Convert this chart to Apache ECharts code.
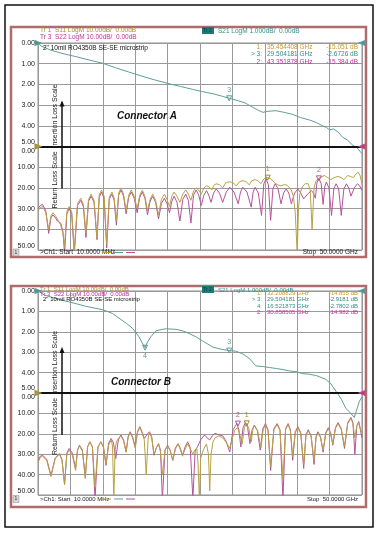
<!DOCTYPE html>
<html>
<head>
<meta charset="utf-8">
<script src="https://cdn.jsdelivr.net/npm/echarts@6/dist/echarts.min.js"></script>
<style>
html, body { margin: 0; padding: 0; background: #fff; }
#chart { width: 378px; height: 533px; }
</style>
</head>
<body>
<div id="chart"></div>
<script>
// [frequency GHz, level dB]

// ---- Connector A ----
const aS21 = [[0.01, 0], [0.5, -0.15], [2, -0.35], [3.7, -0.5], [6, -0.67], [8, -0.83], [10, -0.98], [12, -1.2], [14, -1.4], [16, -1.6], [18, -1.78], [20, -1.95], [22, -2.1], [24, -2.25], [25.4, -2.35], [27, -2.45], [28.5, -2.58], [29.5, -2.67], [31, -2.8], [32, -2.9], [33, -3.08], [34, -3.25], [34.7, -3.35], [35.5, -3.3], [36.7, -3.27], [38, -3.35], [39.3, -3.45], [40.5, -3.6], [41.9, -3.72], [43, -3.85], [43.9, -4.0], [44.5, -4.08], [45, -4.2], [45.6, -4.15], [46.3, -4.3], [47, -4.55], [47.8, -4.7], [48.6, -4.95], [49.2, -5.05], [50, -5.35]]

const aS11 = [[0.01, -31], [0.35, -29.5], [0.7, -29], [1.2, -32], [1.65, -40], [2.0, -33.5], [2.3, -32], [2.7, -33.5], [3.0, -35], [3.5, -38], [3.85, -42], [4.1, -48],
  [4.45, -31.5], [4.8, -29], [5.2, -31.5], [5.6, -50], [6.1, -27.5], [6.6, -25], [7.0, -28], [7.4, -42],
  [7.8, -25.5], [8.2, -23], [8.65, -26], [9.1, -44], [9.45, -23.5], [9.8, -21], [10.2, -24], [10.6, -47],
  [11.0, -24.5], [11.4, -22], [11.75, -25], [12.1, -36], [12.45, -22.5], [12.8, -20], [13.2, -23], [13.6, -31],
  [14.0, -23.5], [14.4, -21], [14.85, -24], [15.3, -30], [15.7, -23.5], [16.1, -21], [16.5, -24], [16.9, -31],
  [17.3, -25.5], [17.7, -23], [18.15, -26], [18.6, -33], [19.05, -25.5], [19.5, -23], [19.9, -25.5], [20.3, -29],
  [20.65, -24], [21.0, -22], [21.45, -24], [21.9, -27], [22.35, -23], [22.8, -21], [23.2, -23], [23.6, -26],
  [24.0, -21.5], [24.4, -20], [24.8, -21], [25.2, -23], [25.6, -20], [26.0, -19], [26.4, -19.5], [26.8, -21],
  [27.2, -18.5], [27.6, -18], [28.0, -18.5], [28.5, -20], [29.0, -17.5], [29.6, -17], [30.1, -17.5], [30.6, -19],
  [31.1, -17], [31.6, -16.5], [32.1, -17], [32.6, -18.5], [33.0, -16.5], [33.5, -16], [33.9, -16.5], [34.4, -18],
  [34.9, -15.5], [35.45, -15], [36.0, -15.8], [36.5, -17.5], [37.0, -18.5], [37.5, -19], [37.9, -18.5], [38.3, -18.5],
  [38.7, -19.5], [39.1, -21], [39.4, -24], [39.7, -32], [40.0, -52], [40.2, -30], [40.4, -23], [40.8, -19.5],
  [41.2, -18], [41.7, -18], [42.0, -21], [42.3, -40], [42.6, -20], [42.9, -16.5], [43.5, -15], [44.2, -14],
  [44.7, -15], [45.2, -16], [45.7, -15], [46.3, -14.5], [46.8, -15], [47.2, -16], [47.5, -15], [47.8, -14],
  [48.2, -14.5], [48.7, -15], [49.0, -13.5], [49.4, -12.4], [49.7, -14], [50, -18]]

const aS22 = [[0.01, -30], [0.35, -28.5], [0.7, -28], [1.2, -31], [1.65, -42], [2.0, -34.5], [2.3, -33], [2.7, -34.5], [3.0, -36], [3.5, -37], [3.85, -41], [4.1, -52],
  [4.45, -32.5], [4.8, -30], [5.2, -32.5], [5.6, -52], [6.1, -28.5], [6.6, -26], [7.0, -29], [7.4, -44],
  [7.8, -26.5], [8.2, -24], [8.65, -27], [9.1, -45], [9.45, -24.5], [9.8, -22], [10.2, -25], [10.6, -49],
  [11.0, -25.5], [11.4, -23], [11.75, -26], [12.1, -38], [12.45, -23.5], [12.8, -21], [13.2, -24], [13.6, -32.5],
  [14.0, -24.5], [14.4, -22], [14.85, -25], [15.3, -32], [15.7, -24.5], [16.1, -22], [16.5, -25], [16.9, -33],
  [17.3, -26.5], [17.7, -24], [18.15, -27], [18.6, -35], [19.05, -27.5], [19.5, -25], [19.9, -27.5], [20.3, -32],
  [20.65, -26.5], [21.0, -24], [21.45, -27], [21.9, -36], [22.35, -25.5], [22.8, -23], [23.2, -26], [23.6, -37],
  [24.0, -23.5], [24.4, -21], [24.8, -23.5], [25.2, -28.5], [25.6, -23.5], [26.0, -21.3], [26.35, -23.5], [26.7, -27],
  [27.1, -22.5], [27.5, -20.5], [28.0, -22.5], [28.5, -27], [29.05, -22], [29.6, -19.7], [30.25, -22], [30.9, -27.7],
  [31.25, -22], [31.6, -19.7], [32.25, -22], [32.9, -29.3], [33.2, -22], [33.5, -19.7], [34.0, -22.5], [34.5, -33.3],
  [34.85, -18], [35.2, -15.6], [35.55, -18.5], [35.9, -35.7], [36.25, -20.5], [36.6, -18], [37.05, -20.5], [37.5, -27.7],
  [37.9, -22.5], [38.3, -20.5], [38.7, -22.5], [39.1, -27.7], [39.6, -22.5], [40.1, -20.5], [40.55, -22.5], [41.0, -25.3],
  [41.6, -23], [42.2, -21.3], [42.5, -22.5], [42.8, -25], [43.05, -17.5], [43.35, -15.4], [43.7, -18], [44.0, -28],
  [44.25, -19.5], [44.5, -17.2], [44.9, -20], [45.3, -33.3], [45.65, -20.5], [46.0, -18], [46.4, -20.5], [46.8, -33.3],
  [47.2, -20.5], [47.6, -18], [47.95, -20], [48.3, -24], [48.8, -20], [49.3, -18], [49.65, -19], [50, -21]]

// ---- Connector B ----
const bS21 = [[0.01, 0], [1, -0.2], [3.3, -0.42], [5, -0.55], [7.4, -0.75], [10, -0.92], [11.5, -1.1], [12.5, -1.33], [13.7, -1.6], [14.6, -1.83], [15.6, -2.25], [16.0, -2.5], [16.52, -2.78], [16.9, -2.5], [17.4, -2.25], [18.2, -1.95], [19.7, -1.85], [21.3, -1.88], [22.3, -1.95], [23.3, -2.08], [24.4, -2.25], [25.4, -2.45], [26.2, -2.6], [27, -2.75], [28.2, -2.85], [29.5, -2.92], [30.5, -2.95], [31.6, -3.08], [32.6, -3.3], [33.6, -3.67], [34.6, -3.7], [35.7, -3.75], [36.8, -3.8], [37.8, -3.85], [38.8, -3.92], [39.8, -3.95], [40.8, -4.05], [41.9, -4.08], [43, -4.15], [44.4, -4.33], [45.2, -4.55], [46, -4.92], [46.8, -5.3], [47.5, -5.75], [48.3, -6.0], [48.8, -6.2], [49.6, -5.4], [50, -5.2]]

const bS11 = [[0.01, -34], [0.35, -31.5], [0.7, -31], [1.35, -33], [2.0, -41], [2.65, -32], [3.3, -30], [3.7, -33], [4.1, -45], [4.45, -30], [4.8, -28], [5.3, -30.5], [5.8, -38],
  [6.1, -28], [6.4, -26], [6.85, -28.5], [7.3, -42], [7.65, -26.5], [8.0, -24], [8.4, -26.5], [8.8, -46], [9.25, -26.5], [9.7, -24], [10.1, -26.5], [10.5, -35],
  [10.9, -25.5], [11.3, -23], [11.5, -26], [11.7, -52], [11.9, -28], [12.1, -24], [12.45, -22], [12.8, -21], [13.2, -23.5], [13.6, -29],
  [13.9, -22], [14.2, -19.5], [14.6, -22], [15.0, -27], [15.35, -19.5], [15.7, -17], [16.05, -19.5], [16.4, -23], [16.7, -40], [17.0, -22],
  [17.2, -19.5], [17.55, -22], [17.9, -30], [18.25, -27], [18.6, -25], [18.9, -29], [19.2, -40], [19.6, -28], [20.0, -26], [20.4, -28.5],
  [20.8, -33], [21.2, -27.5], [21.6, -25], [21.95, -27.5], [22.3, -31], [22.7, -27.5], [23.1, -25], [23.5, -27.5], [23.9, -30], [24.2, -28],
  [24.5, -27], [24.7, -35], [24.9, -52], [25.1, -32], [25.5, -28], [26.0, -25], [26.3, -30], [26.5, -48], [26.7, -30], [27.0, -24],
  [27.3, -22], [27.9, -21], [28.5, -22], [29.0, -24], [29.6, -27], [30.0, -22], [30.4, -18], [30.8, -17], [31.2, -21], [31.5, -25],
  [31.85, -17], [32.2, -14.9], [32.55, -17.5], [32.9, -24], [33.15, -18], [33.4, -16], [33.9, -18.5], [34.4, -27], [34.75, -18], [35.1, -15.5],
  [35.5, -18.5], [35.9, -36], [36.4, -18], [36.9, -15.5], [37.35, -18.5], [37.8, -42], [38.2, -18], [38.6, -15.5], [38.95, -18.5], [39.3, -31],
  [39.7, -19.5], [40.1, -17], [40.55, -20], [41.0, -35], [41.35, -21], [41.7, -18.5], [42.15, -21.5], [42.6, -33], [42.9, -22], [43.2, -19.5],
  [43.6, -22], [44.0, -28], [44.4, -20], [44.8, -17.5], [45.15, -20], [45.5, -25], [45.9, -17.5], [46.3, -15], [46.8, -18], [47.3, -26],
  [47.8, -15], [48.3, -12.5], [48.6, -15], [48.9, -22], [49.2, -16], [49.5, -15], [50, -20]]

const bS22 = [[0.01, -33], [0.35, -31], [0.7, -30.5], [1.35, -32.5], [2.0, -40.4], [2.65, -32], [3.3, -29.7], [3.7, -32.5], [4.1, -44.6], [4.45, -29.5], [4.8, -27.2], [5.3, -29.5], [5.8, -37],
  [6.1, -28], [6.4, -25.6], [6.85, -28], [7.3, -41.2], [7.65, -26.5], [8.0, -23.9], [8.4, -26.5], [8.8, -52], [9.25, -26.5], [9.7, -23.9], [10.1, -26.5], [10.5, -35.5],
  [10.9, -24.5], [11.3, -22.3], [11.65, -24.5], [12.0, -32.2], [12.4, -23], [12.8, -20.6], [13.2, -23], [13.6, -28.9], [13.9, -21.5], [14.2, -19],
  [14.6, -21.5], [15.0, -26.4], [15.35, -19], [15.7, -16.5], [16.05, -19], [16.4, -22.3], [16.8, -20.5], [17.2, -19], [17.55, -21.5], [17.9, -30.5],
  [18.25, -27], [18.6, -24.8], [18.9, -28], [19.2, -52], [19.6, -28], [20.0, -25.6], [20.4, -28], [20.8, -33], [21.2, -27], [21.6, -24.8],
  [21.95, -27], [22.3, -30.5], [22.7, -26.5], [23.1, -23.9], [23.5, -27], [23.9, -52], [24.25, -28.5], [24.6, -26.4], [25.1, -23], [25.7, -20.6],
  [26.1, -22], [26.5, -23], [26.9, -21], [27.3, -19.8], [27.9, -20.5], [28.5, -21], [29.0, -23.5], [29.6, -28.9], [30.1, -18], [30.7, -15],
  [31.0, -18], [31.3, -26.4], [31.65, -17], [32.0, -14.5], [32.35, -17], [32.7, -24.8], [33.05, -18], [33.4, -15.7], [33.85, -18.5], [34.3, -28],
  [34.7, -17.5], [35.1, -15], [35.5, -18], [35.9, -38], [36.4, -17.5], [36.9, -15], [37.35, -18], [37.8, -52], [38.2, -17.5], [38.6, -15],
  [38.95, -18], [39.3, -33], [39.7, -19], [40.1, -16.5], [40.55, -19.5], [41.0, -37], [41.35, -20.5], [41.7, -18], [42.15, -21], [42.6, -35],
  [42.9, -21.5], [43.2, -19], [43.6, -21.5], [44.0, -29], [44.4, -19.5], [44.8, -17], [45.15, -19.5], [45.5, -25.6], [45.9, -17], [46.3, -14.5],
  [46.8, -17.5], [47.3, -27.2], [47.8, -14.5], [48.3, -12], [48.6, -14.5], [48.9, -30], [49.2, -16], [49.5, -14], [50, -22]]

// marker readouts [GHz, dB, id]
const aMarkers = { s11: [35.45, -15.05, '1'], s22: [43.35, -15.38, '2'], s21: [[29.5, -2.67, '3']] }
const bMarkers = { s11: [32.21, -14.86, '1'], s22: [30.86, -14.98, '2'], s21: [[29.5, -2.92, '3'], [16.52, -2.78, '4']] }

const aTable = [
  ['1:', '35.454408 GHz', '-15.051 dB', '#c49a28'],
  ['> 3:', '29.504181 GHz', '-2.6726 dB', '#2f8f8a'],
  ['2:', '43.351878 GHz', '-15.384 dB', '#c0309a'],
]
const bTable = [
  ['1:', '32.208829 GHz', '-14.855 dB', '#c49a28'],
  ['> 3:', '29.504181 GHz', '-2.9181 dB', '#2f8f8a'],
  ['4:', '16.521873 GHz', '-2.7802 dB', '#2f8f8a'],
  ['2:', '30.858505 GHz', '-14.982 dB', '#c0309a'],
]

const C_S11 = '#b7a244'
const C_S22 = '#b4549a'
const C_S21 = '#5e9e98'
const FONT = 'Liberation Sans, Arial, sans-serif'

const chart = echarts.init(document.getElementById('chart'), null, { renderer: 'canvas' })

// screen layout of each analyzer capture
const panels = [
  { top: 43, height: 207, frameTop: 27, frameBottom: 257, name: 'Connector A', fs: 6.5,
    h1: 30.5, h2: 37, micro: 48, tab: 47, tabStep: 7.5, conn: 116, connX: 117, foot: 252.5,
    s21: aS21, s11: aS11, s22: aS22, mk: aMarkers, table: aTable },
  { top: 291, height: 204, frameTop: 286, frameBottom: 507, name: 'Connector B', fs: 6,
    h1: 289.5, h2: 294.5, micro: 299, tab: 293.5, tabStep: 6.2, conn: 382, connX: 111, foot: 499,
    s21: bS21, s11: bS11, s22: bS22, mk: bMarkers, table: bTable },
]

const grid = [], xAxis = [], yAxis = [], series = [], graphic = []

const tickFont = { fontSize: 7, fontFamily: FONT, color: '#222' }
const s21Label = (v) => {
  const r = Math.round(v * 100) / 100
  if (r < -5) return ''
  const s = Math.abs(r).toFixed(2)
  return r === -5 ? '{up|' + s + '}' : s
}
const rlLabel = (v) => {
  const r = Math.round(v)
  if (r > 0) return ''
  const s = Math.abs(r).toFixed(2)
  if (r === 0) return '{dn|' + s + '}'
  if (r === -50) return '{up|' + s + '}'
  return s
}

const txt = (x, y, text, fs, color, extra) => ({ type: 'text', x, y, z: 10,
  style: Object.assign({ text, font: fs + 'px ' + FONT, fill: color, verticalAlign: 'middle' }, extra || {}) })

// reference-position arrows at the plot edges
const refArrow = (x, y, rot, color) => ({ coord: [x, y], symbol: 'triangle', symbolSize: [5, 6], symbolRotate: rot,
  itemStyle: { color }, label: { show: false } })

panels.forEach((p, i) => {
  grid.push({ left: 38, width: 324, top: p.top, height: p.height, show: true,
    backgroundColor: '#fff', borderColor: '#8c8c8c', borderWidth: 1 })
  xAxis.push({ type: 'value', gridIndex: i, min: 0, max: 50, interval: 5,
    axisLabel: { show: false }, axisTick: { show: false },
    axisLine: { show: false }, splitLine: { lineStyle: { color: '#9a9a9a', width: 1 } } })
  // insertion loss scale (S21), 1 dB/div
  yAxis.push({ type: 'value', gridIndex: i, min: -10, max: 0, interval: 1, position: 'left',
    axisLine: { show: false }, axisTick: { show: false },
    splitLine: { lineStyle: { color: '#9a9a9a', width: 1 } },
    axisLabel: { ...tickFont, margin: 3, formatter: s21Label,
      rich: { up: { ...tickFont, padding: [0, 0, 9, 0] } } } })
  // return loss scale (S11/S22), 10 dB/div
  yAxis.push({ type: 'value', gridIndex: i, min: -50, max: 50, interval: 10, position: 'left',
    axisLine: { show: false }, axisTick: { show: false }, splitLine: { show: false },
    axisLabel: { ...tickFont, margin: 3, formatter: rlLabel,
      rich: { dn: { ...tickFont, padding: [9, 0, 0, 0] }, up: { ...tickFont, padding: [0, 0, 8, 0] } } } })

  const mp = (pt, below) => ({ coord: [pt[0], pt[1]], name: pt[2],
    label: { position: below ? 'bottom' : 'top', distance: 2 } })
  const mpStyle = (color) => ({ symbol: 'triangle', symbolSize: 5, symbolRotate: 180,
    itemStyle: { color: 'transparent', borderColor: color, borderWidth: 1 },
    label: { show: true, formatter: (d) => d.name, fontSize: 7, fontFamily: FONT, color: color } })

  series.push({ name: 'S22', type: 'line', xAxisIndex: i, yAxisIndex: i * 2 + 1, data: p.s22,
    showSymbol: false, lineStyle: { color: C_S22, width: 1 }, animation: false,
    markPoint: { ...mpStyle(C_S22), data: [mp(p.mk.s22), refArrow(50, 0, 90, '#d0306a')] },
    markLine: { silent: true, symbol: 'none', label: { show: false },
      lineStyle: { color: '#111', width: 2, type: 'solid' }, data: [{ yAxis: 0 }] } })
  series.push({ name: 'S11', type: 'line', xAxisIndex: i, yAxisIndex: i * 2 + 1, data: p.s11,
    showSymbol: false, lineStyle: { color: C_S11, width: 1 }, animation: false,
    markPoint: { ...mpStyle('#a08a30'), data: [mp(p.mk.s11), refArrow(0, 0, -90, '#a8a040')] } })
  series.push({ name: 'S21', type: 'line', xAxisIndex: i, yAxisIndex: i * 2, data: p.s21,
    showSymbol: false, lineStyle: { color: C_S21, width: 1 }, animation: false,
    markPoint: { ...mpStyle(C_S21), data: p.mk.s21.map((m) => mp(m, m[2] === '4'))
      .concat([refArrow(0, 0, -90, '#3f9a94'), refArrow(50, 0, 90, '#3f9a94')]) } })

  // frame of the analyzer capture
  graphic.push({ type: 'rect', shape: { x: 11, y: p.frameTop, width: 355, height: p.frameBottom - p.frameTop },
    style: { fill: 'none', stroke: '#b06c6c', lineWidth: 2.5 }, z: 1 })

  graphic.push(txt(40, p.h1, 'Tr 1  S11 LogM 10.00dB/  0.00dB', p.fs, '#a8902a'))
  graphic.push(txt(40, p.h2, 'Tr 3  S22 LogM 10.00dB/  0.00dB', p.fs, '#c0309a'))
  graphic.push({ type: 'rect', shape: { x: 202, y: p.h1 - 3.5, width: 12, height: 7 }, style: { fill: '#1f7a76' }, z: 10 })
  graphic.push(txt(203, p.h1, 'Tr 2', 5, '#0c3c3a'))
  graphic.push(txt(218, p.h1 + 0.5, 'S21 LogM 1.000dB/  0.00dB', p.fs, '#2f8f8a'))
  graphic.push(txt(43, p.micro, '2" 10mil RO4350B SE-SE microstrip', p.fs, '#111'))

  p.table.forEach((r, k) => {
    const y = p.tab + k * p.tabStep
    graphic.push(txt(262, y, r[0], p.fs, r[3], { align: 'right' }))
    graphic.push(txt(267, y, r[1], p.fs, r[3]))
    graphic.push(txt(358, y, r[2], p.fs, r[3], { align: 'right' }))
  })

  const mid = p.top + p.height / 2
  graphic.push({ type: 'text', x: 55, y: mid, rotation: Math.PI / 2, z: 10,
    style: { text: 'Return Loss Scale  Insertion Loss Scale', font: '7px ' + FONT, fill: '#222',
      align: 'center', verticalAlign: 'middle' } })
  graphic.push({ type: 'line', shape: { x1: 62, y1: mid - 44, x2: 62, y2: mid + 42 },
    style: { stroke: '#111', lineWidth: 1.5 }, z: 10 })
  graphic.push({ type: 'polygon', shape: { points: [[59.5, mid - 40], [64.5, mid - 40], [62, mid - 46]] },
    style: { fill: '#111' }, z: 10 })

  graphic.push(txt(p.connX, p.conn, p.name, 10, '#111', { font: 'italic bold 10px ' + FONT }))

  graphic.push({ type: 'rect', shape: { x: 13, y: p.foot - 3.5, width: 6, height: 7 },
    style: { fill: '#d8d8d8', stroke: '#888', lineWidth: 0.5 }, z: 10 })
  graphic.push(txt(16, p.foot, '1', 5, '#333', { align: 'center' }))
  graphic.push(txt(40, p.foot, '>Ch1: Start  10.0000 MHz', p.fs, '#222'))
  ;[[C_S11, 102], [C_S21, 114], [C_S22, 126]].forEach(([c, x]) => {
    graphic.push({ type: 'line', shape: { x1: x, y1: p.foot, x2: x + 9, y2: p.foot }, style: { stroke: c, lineWidth: 1 }, z: 10 })
  })
  graphic.push(txt(358, p.foot, 'Stop  50.0000 GHz', p.fs, '#222', { align: 'right' }))
})

// outer page border
graphic.push({ type: 'rect', shape: { x: 5, y: 5, width: 368, height: 522 },
  style: { fill: 'none', stroke: '#111', lineWidth: 1.5 }, z: 0 })

chart.setOption({
  backgroundColor: '#fff',
  animation: false,
  grid, xAxis, yAxis, series, graphic,
})
</script>
</body>
</html>
